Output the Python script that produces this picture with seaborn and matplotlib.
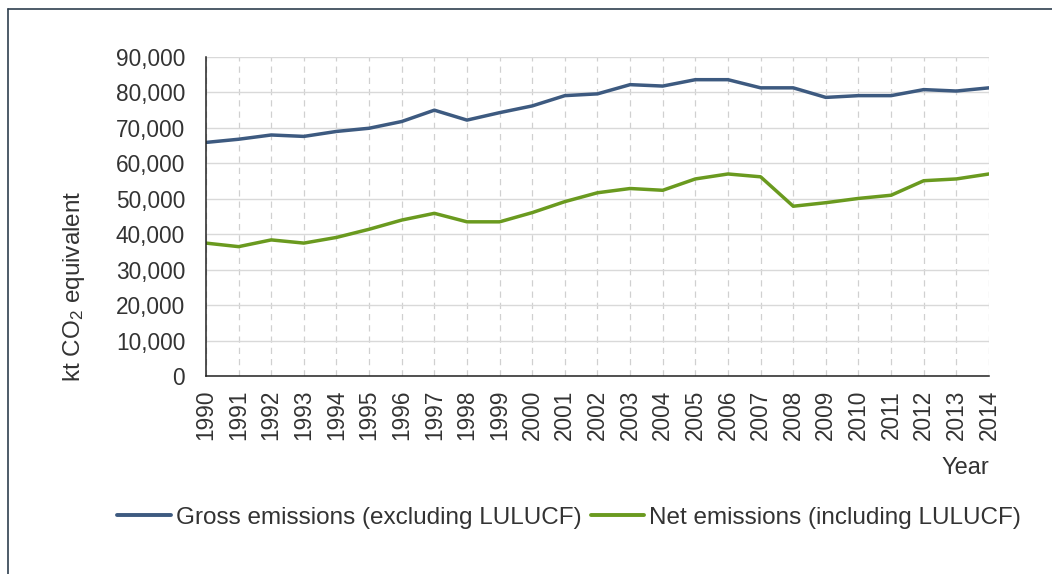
import numpy as np
import pandas as pd
import matplotlib
matplotlib.use("Agg")
import matplotlib.pyplot as plt
from matplotlib.ticker import FuncFormatter, MultipleLocator
from matplotlib.lines import Line2D
import seaborn as sns

# ----------------------------------------------
# Data (kt CO2 equivalent)
# ----------------------------------------------
years = list(range(1990, 2015))
gross = [65900, 66800, 68000, 67600, 69000, 69900, 71800, 75000, 72200, 74300,
         76200, 79100, 79600, 82200, 81800, 83600, 83600, 81300, 81300, 78600,
         79100, 79100, 80800, 80400, 81300]
net = [37500, 36500, 38400, 37500, 39100, 41400, 44000, 45900, 43500, 43500,
       46100, 49200, 51700, 52900, 52400, 55600, 57000, 56200, 47900, 48900,
       50100, 51000, 55100, 55600, 57000]
series_names = ["Gross emissions (excluding LULUCF)", "Net emissions (including LULUCF)"]
colors = ["#3d5a80", "#6a9a1f"]

df = pd.DataFrame({"Year": years * 2,
                   "Emissions": gross + net,
                   "Series": [series_names[0]] * len(years) + [series_names[1]] * len(years)})

# ----------------------------------------------
# Style
# ----------------------------------------------
sns.set_style("white")
plt.rcParams["font.family"] = ["Liberation Sans", "DejaVu Sans"]
plt.rcParams["mathtext.default"] = "regular"

fig = plt.figure(figsize=(10.52, 5.74), dpi=100)
ax = fig.add_axes([0.1958, 0.3449, 0.7443, 0.5558])

sns.lineplot(data=df, x="Year", y="Emissions", hue="Series",
             palette=colors, linewidth=2.5, ax=ax, legend=False)

ax.set_xlim(1990, 2014)
ax.set_ylim(0, 90000)
ax.set_xticks(years)
ax.set_xticklabels([str(y) for y in years], rotation=90)
ax.yaxis.set_major_locator(MultipleLocator(10000))
ax.yaxis.set_major_formatter(FuncFormatter(lambda v, p: f"{v:,.0f}"))

# grid: solid horizontal, dashed vertical
ax.grid(axis="y", color="#d9d9d9", linestyle="-", linewidth=1)
ax.grid(axis="x", color="#d0d0d0", linestyle=(0, (5, 4)), linewidth=0.9)
ax.set_axisbelow(True)

for side in ["top", "right"]:
    ax.spines[side].set_visible(False)
for side in ["left", "bottom"]:
    ax.spines[side].set_color("#222222")
    ax.spines[side].set_linewidth(1.1)

ax.tick_params(axis="both", which="major", direction="out", length=6,
               width=1.1, color="#222222", labelsize=16.3, labelcolor="#333333")
ax.tick_params(axis="y", pad=9)
ax.tick_params(axis="x", pad=4)

ax.set_ylabel("kt CO$_2$ equivalent", fontsize=17.5, color="#333333")
ax.yaxis.set_label_coords(-0.152, 0.28)
ax.set_xlabel("Year", fontsize=17, color="#333333", loc="right", labelpad=12)

handles = [Line2D([0], [0], color=c, linewidth=2.8) for c in colors]
fig.legend(handles, series_names, loc="center", bbox_to_anchor=(0.541, 0.098),
           ncol=2, frameon=False, fontsize=17.5, handlelength=2.2,
           handletextpad=0.2, columnspacing=0.4, labelcolor="#333333")

# outer frame (top and left edges only)
fig.add_artist(Line2D([0.0076, 1.0], [0.984, 0.984], color="#2f3f4f", linewidth=1.2))
fig.add_artist(Line2D([0.0076, 0.0076], [0.0, 0.984], color="#2f3f4f", linewidth=1.2))

fig.savefig("out.png", dpi=100)
